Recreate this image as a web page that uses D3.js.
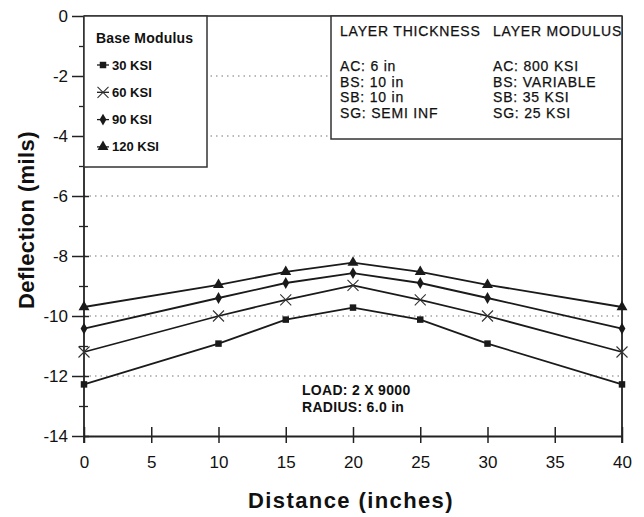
<!DOCTYPE html>
<html lang="en">
<head>
    <meta charset="utf-8">
    <script src="https://d3js.org/d3.v7.min.js"></script>
    <title>Deflection vs Distance</title>
    <style>
        body { margin: 0; background: #fff; }
        text { font-family: "Liberation Sans", Arial, Helvetica, sans-serif; fill: #111; }
    </style>
</head>
<body>
    <div id="container"></div>
    <script>
        // distances where deflection was computed (inches)
        const distances = [0, 10, 15, 20, 25, 30, 40];
        // deflection (mils) per base modulus
        const defl30  = [-12.28, -10.92, -10.12, -9.72, -10.12, -10.92, -12.28];
        const defl60  = [-11.2, -10.0, -9.46, -8.98, -9.46, -10.0, -11.2];
        const defl90  = [-10.42, -9.4, -8.9, -8.57, -8.9, -9.4, -10.42];
        const defl120 = [-9.7, -8.96, -8.53, -8.22, -8.53, -8.96, -9.7];
        const seriesNames = ["30 KSI", "60 KSI", "90 KSI", "120 KSI"];
        const seriesMarks = ["square", "x", "diamond", "triangle"];
        const xTicks = [0, 5, 10, 15, 20, 25, 30, 35, 40];
        const yTicks = [-14, -12, -10, -8, -6, -4, -2, 0];
        const yMinor = [-13, -11, -9, -7, -5, -3, -1];
        const gridVals = [-12, -10, -8, -6, -4, -2];
        const thicknessLines = ["AC: 6 in", "BS: 10 in", "SB: 10 in", "SG: SEMI INF"];
        const modulusLines = ["AC: 800 KSI", "BS: VARIABLE", "SB: 35 KSI", "SG: 25 KSI"];
        const loadLines = ["LOAD: 2 X 9000", "RADIUS: 6.0 in"];

        const series = [defl30, defl60, defl90, defl120].map((vals, i) => ({
            name: seriesNames[i], mark: seriesMarks[i],
            pts: distances.map((d, j) => ({x: d, y: vals[j]}))
        }));

        const w = 644, h = 517;
        const L = 84, R = 622, T = 16, B = 436;
        const INK = "#222";

        const xScale = d3.scaleLinear().domain([0, 40]).range([L, R]);
        const yScale = d3.scaleLinear().domain([-14, 0]).range([B, T]);

        const svg = d3.select("#container").append("svg").attr("width", w).attr("height", h);

        // dotted grid
        svg.append("g").selectAll("line").data(gridVals).enter().append("line")
           .attr("x1", L).attr("x2", R)
           .attr("y1", d => yScale(d)).attr("y2", d => yScale(d))
           .attr("stroke", "#777").attr("stroke-width", 1.2).attr("stroke-dasharray", "1.5,4");

        // frame: top + right
        svg.append("line").attr("x1", L).attr("x2", R).attr("y1", T).attr("y2", T)
           .attr("stroke", INK).attr("stroke-width", 1.5);
        svg.append("line").attr("x1", R).attr("x2", R).attr("y1", T).attr("y2", B + 7)
           .attr("stroke", INK).attr("stroke-width", 1.8);

        // x axis
        const xAxis = d3.axisBottom(xScale).tickValues(xTicks).tickSizeOuter(0).tickFormat(d => String(d));
        const gx = svg.append("g").attr("transform", "translate(0," + B + ")").call(xAxis);
        gx.select(".domain").attr("stroke", INK).attr("stroke-width", 1.8);
        gx.selectAll(".tick line").attr("y1", -9).attr("y2", 7).attr("stroke", INK).attr("stroke-width", 1.5);
        gx.selectAll(".tick text").attr("y", 20).attr("font-size", "17px")
          .style("font-family", "Liberation Sans, Arial, sans-serif").attr("fill", "#111");

        // y axis, major + minor (plain hyphen for the minus sign)
        const yAxis = d3.axisLeft(yScale).tickValues(yTicks).tickSizeOuter(0).tickFormat(d => String(d));
        const gy = svg.append("g").attr("transform", "translate(" + L + ",0)").call(yAxis);
        gy.select(".domain").attr("stroke", INK).attr("stroke-width", 1.8)
          .attr("d", "M0," + T + "V" + (B + 7));
        gy.selectAll(".tick line").attr("x1", -12).attr("x2", 5).attr("stroke", INK).attr("stroke-width", 1.5);
        gy.selectAll(".tick text").attr("x", -16).attr("font-size", "17px")
          .style("font-family", "Liberation Sans, Arial, sans-serif").attr("fill", "#111");
        const gyMinor = svg.append("g").attr("transform", "translate(" + L + ",0)")
          .call(d3.axisLeft(yScale).tickValues(yMinor).tickFormat(""));
        gyMinor.select(".domain").remove();
        gyMinor.selectAll(".tick line").attr("x1", -5).attr("x2", 4).attr("stroke", INK).attr("stroke-width", 1.3);

        // axis titles
        svg.append("text").attr("x", 351).attr("y", 508).attr("text-anchor", "middle")
           .attr("font-size", "22px").attr("font-weight", "bold").attr("letter-spacing", "1.4px")
           .text("Distance (inches)");
        svg.append("text").attr("transform", "translate(34,220) rotate(-90)").attr("text-anchor", "middle")
           .attr("font-size", "22px").attr("font-weight", "bold").attr("letter-spacing", "0.4px")
           .text("Deflection (mils)");

        // boxes (white fill hides grid)
        svg.append("rect").attr("x", L).attr("y", T).attr("width", 207 - L).attr("height", 167 - T)
           .attr("fill", "#fff").attr("stroke", "#333").attr("stroke-width", 1.5);
        svg.append("rect").attr("x", 331).attr("y", T).attr("width", R - 331).attr("height", 139 - T)
           .attr("fill", "#fff").attr("stroke", "#333").attr("stroke-width", 1.5);

        function marker(g, type, cx, cy) {
            if (type === "x") {
                const s = 5.5;
                g.append("path").attr("d", "M" + (cx - s) + "," + (cy - s) + "L" + (cx + s) + "," + (cy + s) +
                    "M" + (cx - s) + "," + (cy + s) + "L" + (cx + s) + "," + (cy - s))
                 .attr("stroke", "#333").attr("stroke-width", 1.1).attr("fill", "none");
                return;
            }
            const sym = {square: d3.symbolSquare, diamond: d3.symbolDiamond, triangle: d3.symbolTriangle}[type];
            const size = {square: 42, diamond: 40, triangle: 52}[type];
            g.append("path").attr("d", d3.symbol().type(sym).size(size)())
             .attr("transform", "translate(" + cx + "," + cy + ")").attr("fill", "#1a1a1a");
        }

        // lines + markers
        const line = d3.line().x(d => xScale(d.x)).y(d => yScale(d.y));
        series.forEach(s => {
            const g = svg.append("g");
            g.append("path").datum(s.pts).attr("d", line)
             .attr("fill", "none").attr("stroke", "#1a1a1a").attr("stroke-width", 1.8);
            s.pts.forEach(p => marker(g, s.mark, xScale(p.x), yScale(p.y)));
        });

        // legend
        const legend = svg.append("g");
        legend.append("text").attr("x", 96).attr("y", 43).attr("font-size", "14px").attr("font-weight", "bold")
              .attr("letter-spacing", "0.2px").text("Base Modulus");
        series.forEach((s, i) => {
            const cy = 65 + i * 27.3;
            legend.append("line").attr("x1", 97).attr("x2", 109).attr("y1", cy).attr("y2", cy)
                  .attr("stroke", "#1a1a1a").attr("stroke-width", 1.3);
            marker(legend, s.mark, 103, cy);
            legend.append("text").attr("x", 112).attr("y", cy + 4.5).attr("font-size", "13px")
                  .attr("font-weight", "bold").text(s.name);
        });

        // layer info
        const info = svg.append("g").attr("font-size", "14px").attr("letter-spacing", "0.8px")
                        .attr("stroke", "#111").attr("stroke-width", 0.25);
        info.append("text").attr("x", 340).attr("y", 36).text("LAYER THICKNESS");
        info.append("text").attr("x", 493).attr("y", 36).text("LAYER MODULUS");
        thicknessLines.forEach((t, i) => info.append("text").attr("x", 340).attr("y", 71 + i * 15.5).text(t));
        modulusLines.forEach((t, i) => info.append("text").attr("x", 493).attr("y", 71 + i * 15.5).text(t));

        // load note
        loadLines.forEach((t, i) => svg.append("text").attr("x", 302).attr("y", 395 + i * 17)
            .attr("font-size", "14px").attr("font-weight", "bold").attr("letter-spacing", "0.3px").text(t));
    </script>
</body>
</html>
